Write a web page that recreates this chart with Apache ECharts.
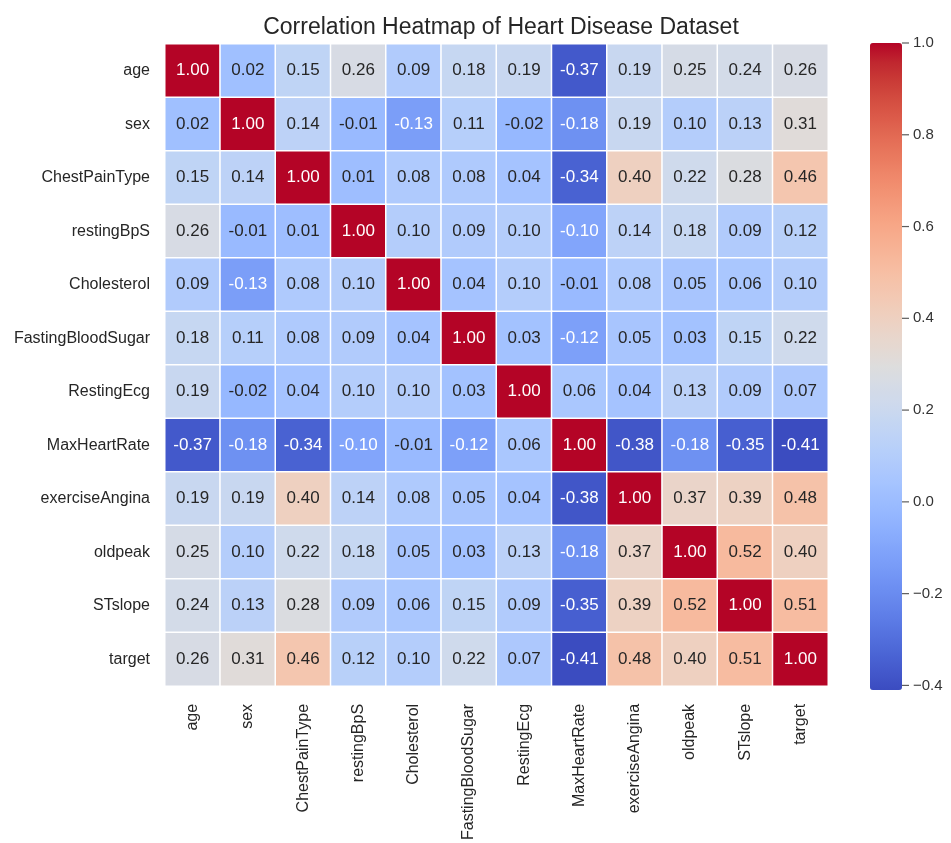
<!DOCTYPE html>
<html>
<head>
<meta charset="utf-8">
<script src="https://cdn.jsdelivr.net/npm/echarts@6/dist/echarts.min.js"></script>
<style>html,body{margin:0;padding:0;background:#fff;}#chart{width:951px;height:843px;}</style>
</head>
<body>
<div id="chart"></div>
<script>
const categories = ['age','sex','ChestPainType','restingBpS','Cholesterol','FastingBloodSugar','RestingEcg','MaxHeartRate','exerciseAngina','oldpeak','STslope','target'];

const rowAge               = [1.00, 0.02, 0.15, 0.26, 0.09, 0.18, 0.19, -0.37, 0.19, 0.25, 0.24, 0.26];
const rowSex               = [0.02, 1.00, 0.14, -0.01, -0.13, 0.11, -0.02, -0.18, 0.19, 0.10, 0.13, 0.31];
const rowChestPainType     = [0.15, 0.14, 1.00, 0.01, 0.08, 0.08, 0.04, -0.34, 0.40, 0.22, 0.28, 0.46];
const rowRestingBpS        = [0.26, -0.01, 0.01, 1.00, 0.10, 0.09, 0.10, -0.10, 0.14, 0.18, 0.09, 0.12];
const rowCholesterol       = [0.09, -0.13, 0.08, 0.10, 1.00, 0.04, 0.10, -0.01, 0.08, 0.05, 0.06, 0.10];
const rowFastingBloodSugar = [0.18, 0.11, 0.08, 0.09, 0.04, 1.00, 0.03, -0.12, 0.05, 0.03, 0.15, 0.22];
const rowRestingEcg        = [0.19, -0.02, 0.04, 0.10, 0.10, 0.03, 1.00, 0.06, 0.04, 0.13, 0.09, 0.07];
const rowMaxHeartRate      = [-0.37, -0.18, -0.34, -0.10, -0.01, -0.12, 0.06, 1.00, -0.38, -0.18, -0.35, -0.41];
const rowExerciseAngina    = [0.19, 0.19, 0.40, 0.14, 0.08, 0.05, 0.04, -0.38, 1.00, 0.37, 0.39, 0.48];
const rowOldpeak           = [0.25, 0.10, 0.22, 0.18, 0.05, 0.03, 0.13, -0.18, 0.37, 1.00, 0.52, 0.40];
const rowSTslope           = [0.24, 0.13, 0.28, 0.09, 0.06, 0.15, 0.09, -0.35, 0.39, 0.52, 1.00, 0.51];
const rowTarget            = [0.26, 0.31, 0.46, 0.12, 0.10, 0.22, 0.07, -0.41, 0.48, 0.40, 0.51, 1.00];

const rows = [rowAge, rowSex, rowChestPainType, rowRestingBpS, rowCholesterol, rowFastingBloodSugar,
  rowRestingEcg, rowMaxHeartRate, rowExerciseAngina, rowOldpeak, rowSTslope, rowTarget];

const colorbarTicks = [-0.4, -0.2, 0.0, 0.2, 0.4, 0.6, 0.8, 1.0];
const vMin = -0.41, vMax = 1.0;

const coolwarm = [
  'rgb(59,76,192)','rgb(68,90,204)','rgb(77,104,215)','rgb(87,117,225)','rgb(98,130,234)',
  'rgb(108,142,241)','rgb(119,154,247)','rgb(130,165,251)','rgb(141,176,254)','rgb(152,185,255)',
  'rgb(163,194,255)','rgb(174,201,253)','rgb(184,208,249)','rgb(194,213,244)','rgb(204,217,238)',
  'rgb(213,219,230)','rgb(221,221,221)','rgb(229,216,209)','rgb(236,211,197)','rgb(241,204,184)',
  'rgb(245,196,172)','rgb(247,187,159)','rgb(247,177,147)','rgb(247,166,134)','rgb(244,154,123)',
  'rgb(241,141,111)','rgb(236,127,99)','rgb(229,112,88)','rgb(222,96,77)','rgb(213,80,66)',
  'rgb(203,62,56)','rgb(192,40,47)','rgb(180,4,38)'
];

const data = [];
rows.forEach((row, y) => {
  row.forEach((v, x) => {
    const light = (v <= -0.095 || v >= 0.8);
    data.push({ value: [x, y, v], label: { color: light ? '#ffffff' : '#262626' } });
  });
});

const tickData = colorbarTicks.map(t => [1, t]);

const FONT = "'Liberation Sans', Arial, sans-serif";
const chart = echarts.init(document.getElementById('chart'), null, { renderer: 'canvas' });
chart.setOption({
  backgroundColor: '#ffffff',
  animation: false,
  title: {
    text: 'Correlation Heatmap of Heart Disease Dataset',
    left: 496, top: 11, textAlign: 'center',
    textStyle: { fontFamily: FONT, fontSize: 23, fontWeight: 'normal', color: '#262626' }
  },
  grid: [
    { left: 165, top: 44, width: 663, height: 646 },
    { left: 870, top: 43, width: 32, height: 647 }
  ],
  xAxis: [
    {
      type: 'category', data: categories, gridIndex: 0,
      axisLine: { show: false }, axisTick: { show: false }, splitLine: { show: false },
      axisLabel: { rotate: 90, margin: 18, fontSize: 16, color: '#262626', fontFamily: FONT, interval: 0 }
    },
    { type: 'value', gridIndex: 1, show: false, min: 0, max: 1 }
  ],
  yAxis: [
    {
      type: 'category', data: categories, gridIndex: 0, inverse: true,
      axisLine: { show: false }, axisTick: { show: false }, splitLine: { show: false },
      axisLabel: { margin: 15, fontSize: 16, color: '#262626', fontFamily: FONT, interval: 0 }
    },
    {
      type: 'value', gridIndex: 1, position: 'right', min: vMin, max: vMax,
      axisLine: { show: false }, splitLine: { show: false },
      axisTick: { show: false },
      axisLabel: {
        margin: 11, fontSize: 15, color: '#333', fontFamily: FONT, customValues: colorbarTicks,
        formatter: v => v.toFixed(1).replace('-', '\u2212')
      }
    }
  ],
  visualMap: {
    type: 'continuous', min: vMin, max: vMax, seriesIndex: 0,
    left: 870, top: 43, itemWidth: 32, itemHeight: 647, padding: 0,
    calculable: false, text: null, showLabel: false, hoverLink: false,
    inRange: { color: coolwarm }
  },
  series: [
    {
      type: 'heatmap', xAxisIndex: 0, yAxisIndex: 0, data: data,
      label: {
        show: true, fontSize: 17, fontFamily: FONT,
        formatter: p => p.value[2].toFixed(2)
      },
      itemStyle: { borderColor: '#ffffff', borderWidth: 1.5 },
      emphasis: { disabled: true }
    },
    {
      type: 'scatter', xAxisIndex: 1, yAxisIndex: 1, data: tickData, silent: true,
      symbol: 'rect', symbolSize: [7, 1.2], symbolOffset: [3.5, 0],
      itemStyle: { color: '#333' }, z: 10
    }
  ]
});
</script>
</body>
</html>
